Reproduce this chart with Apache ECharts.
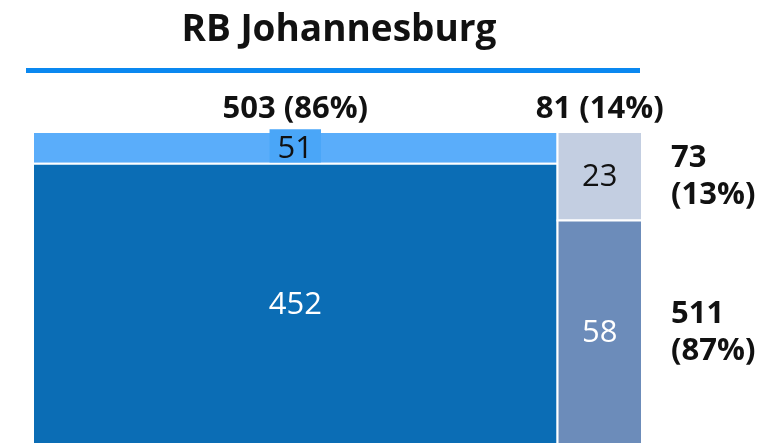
<!DOCTYPE html>
<html>
<head>
<meta charset="utf-8">
<script src="https://cdn.jsdelivr.net/npm/echarts@6/dist/echarts.min.js"></script>
<style>
  html, body { margin: 0; padding: 0; background: #fff; }
  #chart { width: 761px; height: 444px; }
</style>
</head>
<body>
<div id="chart"></div>
<script>
// Mosaic of two columns, each split into a top and bottom segment
const titleText = 'RB Johannesburg';
const topValues = [51, 23];        // top segment of each column
const bottomValues = [452, 58];    // bottom segment of each column
const columnTotals = [503, 81];
const columnShares = ['86%', '14%'];
const rowTotals = [73, 511];
const rowShares = ['13%', '87%'];
const topColors = ['#5aadfa', '#c3cee1'];
const bottomColors = ['#0b6db5', '#6c8cba'];
const topLabelColors = ['#111111', '#111111'];
const bottomLabelColors = ['#ffffff', '#ffffff'];

const grandTotal = columnTotals.reduce((a, b) => a + b, 0);

// Build rectangles: [x0, x1, y0, y1, value, column, row]
const cells = [];
let xStart = 0;
columnTotals.forEach((tot, i) => {
  const topShare = topValues[i] / tot;
  cells.push([xStart, xStart + tot, 0, topShare, topValues[i], i, 0]);
  cells.push([xStart, xStart + tot, topShare, 1, bottomValues[i], i, 1]);
  xStart += tot;
});

const FONT = '"Open Sans", "Noto Sans", sans-serif';

const chart = echarts.init(document.getElementById('chart'));

chart.setOption({
  animation: false,
  title: {
    text: titleText,
    left: 334,
    textAlign: 'center',
    top: 7,
    textStyle: { fontFamily: FONT, fontSize: 37, fontWeight: 'bold', color: '#111' }
  },
  graphic: [{
    type: 'rect',
    shape: { x: 26, y: 68, width: 614, height: 5 },
    style: { fill: '#0a88f0' }
  }],
  grid: { left: 33, top: 132, width: 609, height: 315 },
  xAxis: { type: 'value', min: 0, max: grandTotal, show: false },
  yAxis: { type: 'value', min: 0, max: 1, inverse: true, show: false },
  series: [{
    type: 'custom',
    clip: false,
    data: cells,
    renderItem: function (params, api) {
      const x0 = api.value(0), x1 = api.value(1), y0 = api.value(2), y1 = api.value(3);
      const val = api.value(4), col = api.value(5), row = api.value(6);
      const p0 = api.coord([x0, y0]);
      const p1 = api.coord([x1, y1]);
      const fill = row === 0 ? topColors[col] : bottomColors[col];
      const txtColor = row === 0 ? topLabelColors[col] : bottomLabelColors[col];
      const cx = (p0[0] + p1[0]) / 2, cy = (p0[1] + p1[1]) / 2;
      const boxed = row === 0 && col === 0;
      const children = [{
        type: 'rect',
        shape: { x: p0[0], y: p0[1], width: p1[0] - p0[0], height: p1[1] - p0[1] },
        style: { fill: fill, stroke: '#ffffff', lineWidth: 2 }
      }, {
        type: 'text',
        x: cx, y: cy + 1,
        style: {
          text: String(val),
          fontFamily: FONT, fontSize: 31, fontWeight: 'normal',
          lineHeight: boxed ? 39 : 36,
          fill: txtColor, align: 'center', verticalAlign: 'middle',
          backgroundColor: boxed ? '#4aa6f8' : null,
          padding: boxed ? [0, 8, 0, 8] : 0
        }
      }];
      // Column total above the column
      if (row === 0) {
        children.push({
          type: 'text',
          x: cx, y: p0[1] - 23,
          style: {
            text: columnTotals[col] + ' (' + columnShares[col] + ')',
            fontFamily: FONT, fontSize: 31, fontWeight: 'bold',
            fill: '#111', align: 'center', verticalAlign: 'middle'
          }
        });
      }
      // Row totals beside the last column
      if (col === columnTotals.length - 1) {
        children.push({
          type: 'text',
          x: p1[0] + 29, y: cy,
          style: {
            text: rowTotals[row] + '\n(' + rowShares[row] + ')',
            fontFamily: FONT, fontSize: 31, fontWeight: 'bold', lineHeight: 37,
            fill: '#111', align: 'left', verticalAlign: 'middle'
          }
        });
      }
      return { type: 'group', children: children };
    }
  }]
});
</script>
</body>
</html>
